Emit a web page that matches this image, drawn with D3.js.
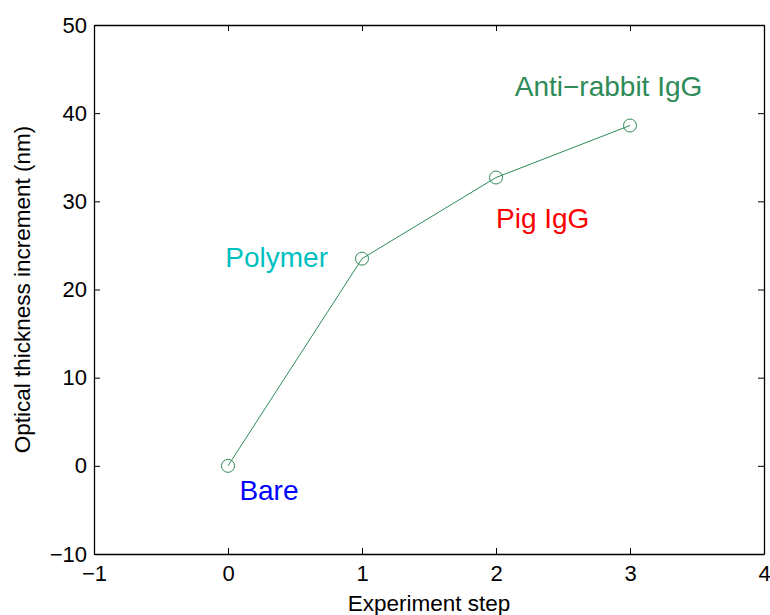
<!DOCTYPE html>
<html>
<head>
<meta charset="utf-8">
<script src="https://cdn.jsdelivr.net/npm/d3@7"></script>
<style>
  body { margin: 0; background: #fff; }
  svg { font-family: "Liberation Sans", Arial, Helvetica, sans-serif; }
</style>
</head>
<body>
<div id="container"></div>
<script>
// DATA
const steps = [0, 1, 2, 3];
const thickness = [0, 23.5, 32.7, 38.6];
const labelNames = ["Bare", "Polymer", "Pig IgG", "Anti\u2212rabbit IgG"];
const labelX = [0.085, -0.02, 2.0, 2.14];
const labelY = [-3.85, 22.56, 27.0, 41.95];
const labelColors = ["#0000ff", "#00bfbf", "#ff0000", "#2e8b57"];
const xTicks = [-1, 0, 1, 2, 3, 4];
const yTicks = [-10, 0, 10, 20, 30, 40, 50];

const width = 770, height = 615,
  margin = { top: 25, right: 6, bottom: 61, left: 94 };
const lineColor = "#2e8b57";

const svg = d3.select("#container").append("svg")
  .attr("width", width)
  .attr("height", height);

const xScale = d3.scaleLinear()
  .domain([-1, 4])
  .range([margin.left, width - margin.right]);

const yScale = d3.scaleLinear()
  .domain([-10, 50])
  .range([height - margin.bottom, margin.top]);

const tickLen = 6;
const fmt = d => d < 0 ? "\u2212" + Math.abs(d) : String(d);

// axes, matlab style: ticks inside, box on
const xAxisB = svg.append("g")
  .attr("transform", `translate(0,${yScale(-10)})`)
  .call(d3.axisBottom(xScale).tickValues(xTicks).tickSizeInner(-tickLen).tickSizeOuter(0).tickPadding(11).tickFormat(fmt));
const xAxisT = svg.append("g")
  .attr("transform", `translate(0,${yScale(50)})`)
  .call(d3.axisTop(xScale).tickValues(xTicks).tickSizeInner(-tickLen).tickSizeOuter(0).tickFormat(""));
const yAxisL = svg.append("g")
  .attr("transform", `translate(${xScale(-1)},0)`)
  .call(d3.axisLeft(yScale).tickValues(yTicks).tickSizeInner(-tickLen).tickSizeOuter(0).tickPadding(7).tickFormat(fmt));
const yAxisR = svg.append("g")
  .attr("transform", `translate(${xScale(4)},0)`)
  .call(d3.axisRight(yScale).tickValues(yTicks).tickSizeInner(-tickLen).tickSizeOuter(0).tickFormat(""));

[xAxisB, xAxisT, yAxisL, yAxisR].forEach(g => {
  g.select(".domain").attr("stroke", "#000").attr("stroke-width", 1.3);
  g.selectAll(".tick line").attr("stroke", "#000");
  g.selectAll("text").attr("fill", "#000").style("font-size", "22px");
});

// line + circle markers
const line = d3.line()
  .x((d, i) => xScale(steps[i]))
  .y(d => yScale(d));

svg.append("path")
  .datum(thickness)
  .attr("d", line)
  .attr("fill", "none")
  .attr("stroke", lineColor)
  .attr("stroke-width", 1);

svg.selectAll("circle")
  .data(thickness)
  .join("circle")
  .attr("cx", (d, i) => xScale(steps[i]))
  .attr("cy", d => yScale(d))
  .attr("r", 6.5)
  .attr("fill", "none")
  .attr("stroke", lineColor)
  .attr("stroke-width", 1);

// step labels
svg.selectAll("text.step")
  .data(labelNames)
  .join("text")
  .attr("class", "step")
  .attr("x", (d, i) => xScale(labelX[i]))
  .attr("y", (d, i) => yScale(labelY[i]))
  .attr("fill", (d, i) => labelColors[i])
  .style("font-size", "28px")
  .text(d => d);

// axis titles
svg.append("text")
  .attr("x", (xScale(-1) + xScale(4)) / 2)
  .attr("y", 611)
  .attr("text-anchor", "middle")
  .style("font-size", "22.5px")
  .text("Experiment step");

svg.append("text")
  .attr("transform", `translate(30,${(yScale(-10) + yScale(50)) / 2}) rotate(-90)`)
  .attr("text-anchor", "middle")
  .style("font-size", "22.5px")
  .text("Optical thickness increment (nm)");
</script>
</body>
</html>
